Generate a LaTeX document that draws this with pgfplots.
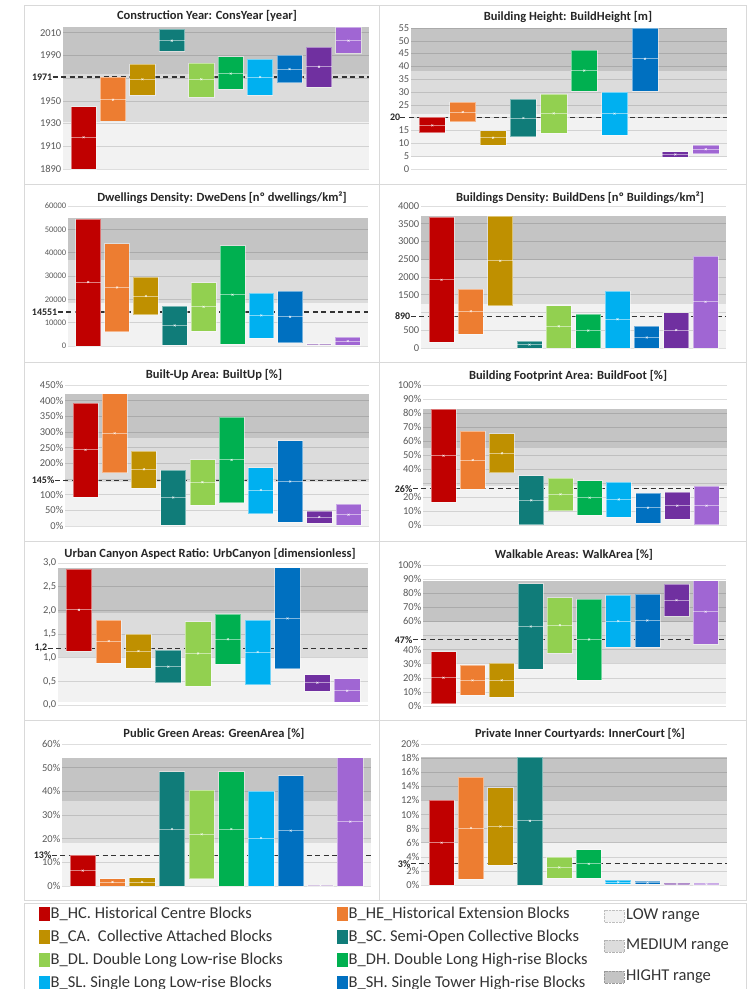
\documentclass[border=0pt]{standalone}
\usepackage{fontspec}
\setmainfont{Carlito}
\usepackage{pgfplots}
\usepackage{pgfplotstable}
\pgfplotsset{compat=1.18}

% block typology colours
\definecolor{c1}{HTML}{C00000}
\definecolor{c2}{HTML}{ED7D31}
\definecolor{c3}{HTML}{BF9000}
\definecolor{c4}{HTML}{107C79}
\definecolor{c5}{HTML}{92D050}
\definecolor{c6}{HTML}{00B050}
\definecolor{c7}{HTML}{00B0F0}
\definecolor{c8}{HTML}{0070C0}
\definecolor{c9}{HTML}{7030A0}
\definecolor{c10}{HTML}{A066D3}
% range bands
\definecolor{bandLow}{HTML}{F2F2F2}
\definecolor{bandMed}{HTML}{DCDCDC}
\definecolor{bandHigh}{HTML}{C4C4C4}
\definecolor{frame}{HTML}{D9D9D9}
\definecolor{ticktext}{HTML}{595959}

% x = block type (1 HC, 2 HE, 3 CA, 4 SC, 5 DL, 6 DH, 7 SL, 8 SH, 9 DT, 10 ST)
\pgfplotstableread{
x lo mean hi
1 1890 1918 1945
2 1932 1951 1971
3 1955 1969 1982
4 1994 2003 2013
5 1953 1969 1983
6 1960 1974 1989
7 1955 1971 1987
8 1966 1978 1990
9 1962 1980 1997
10 1992 2003 2015
}\tConsYear
\pgfplotstableread{
x lo mean hi
1 14.2 17.0 20.2
2 18.5 22.2 26.1
3 9.4 12.2 15.0
4 12.6 19.9 27.2
5 13.9 21.7 29.3
6 30.4 38.4 46.4
7 13.3 21.6 29.9
8 30.4 43.0 55.0
9 4.6 5.7 6.8
10 6.0 7.7 9.2
}\tBuildHeight
\pgfplotstableread{
x lo mean hi
1 0 27400 54300
2 6100 25100 43900
3 13500 21400 29400
4 400 8800 17200
5 6400 16800 27200
6 900 22000 43000
7 3300 13100 22700
8 1400 12500 23500
9 300 700 1000
10 300 2100 3800
}\tDweDens
\pgfplotstableread{
x lo mean hi
1 170 1920 3680
2 400 1035 1650
3 1190 2455 3720
4 0 95 190
5 0 610 1195
6 0 490 950
7 0 810 1610
8 0 295 620
9 0 505 1000
10 0 1300 2580
}\tBuildDens
\pgfplotstableread{
x lo mean hi
1 93 243 393
2 170 296 422
3 121 181 240
4 2 91 179
5 67 140 212
6 75 211 348
7 39 115 186
8 13 142 272
9 9 29 47
10 2 36 69
}\tBuiltUp
\pgfplotstableread{
x lo mean hi
1 16.2 49.5 82.9
2 25.7 46.4 67.0
3 37.4 51.2 65.2
4 0.2 17.6 35.2
5 10.2 21.9 33.6
6 6.9 19.5 31.7
7 5.5 18.3 30.7
8 1.4 12.4 22.9
9 4.3 13.8 23.3
10 0.2 13.8 27.9
}\tBuildFoot
\pgfplotstableread{
x lo mean hi
1 1.14 2.01 2.87
2 0.89 1.35 1.80
3 0.78 1.14 1.50
4 0.47 0.81 1.16
5 0.40 1.09 1.76
6 0.86 1.39 1.92
7 0.43 1.12 1.80
8 0.77 1.83 2.90
9 0.29 0.47 0.64
10 0.06 0.30 0.56
}\tUrbCanyon
\pgfplotstableread{
x lo mean hi
1 1.7 20.1 38.6
2 7.8 18.2 28.9
3 6.4 18.2 30.6
4 26.1 56.4 86.7
5 37.7 57.3 76.8
6 18.2 47.2 75.8
7 41.5 60.2 78.7
8 41.9 60.7 79.1
9 63.7 75.1 86.3
10 43.8 66.8 88.9
}\tWalkArea
\pgfplotstableread{
x lo mean hi
1 0 6.5 13.1
2 0 1.7 3.1
3 0 1.7 3.5
4 0 24.1 48.3
5 3.1 21.9 40.5
6 0 24.1 48.3
7 0 20.3 40.2
8 0 23.4 46.6
9 0 0.3 0.5
10 0 27.2 54.2
}\tGreenArea
\pgfplotstableread{
x lo mean hi
1 0 6.0 12.0
2 0.85 8.1 15.3
3 2.8 8.3 13.8
4 0 9.1 18.1
5 1.0 2.5 4.0
6 1.0 3.0 5.0
7 0.1 0.38 0.66
8 0.1 0.33 0.55
9 0 0.12 0.22
10 0 0.12 0.22
}\tInnerCourt

% floating range bars with mean line and mark, one colour per block type
\newcommand\floatbars[1]{%
  \pgfplotsforeachungrouped \bi in {0,...,9}{%
    \pgfplotstablegetelem{\bi}{lo}\of{#1}\let\vlo\pgfplotsretval
    \pgfplotstablegetelem{\bi}{mean}\of{#1}\let\vmean\pgfplotsretval
    \pgfplotstablegetelem{\bi}{hi}\of{#1}\let\vhi\pgfplotsretval
    \pgfplotstablegetelem{\bi}{x}\of{#1}\let\vx\pgfplotsretval
    \pgfmathsetmacro\xa{\vx-0.43}%
    \pgfmathsetmacro\xb{\vx+0.43}%
    \edef\barcmd{%
      \noexpand\addplot[fill=c\vx, draw=white, draw opacity=0.45, line width=0.6pt, forget plot]
        coordinates {(\xa,\vlo) (\xb,\vlo) (\xb,\vhi) (\xa,\vhi)} --cycle;%
      \noexpand\addplot[white, opacity=0.5, line width=0.8pt, forget plot]
        coordinates {(\xa,\vmean) (\xb,\vmean)};%
      \noexpand\addplot[only marks, mark=x, mark size=1.4pt, white, opacity=0.9, forget plot]
        coordinates {(\vx,\vmean)};%
    }\barcmd
  }%
}

% LOW / MEDIUM / HIGH range bands behind the grid
\newcommand\bands[4]{%
  \addplot[on layer=axis background, fill=bandLow, draw=none, forget plot]
    coordinates {(0.3,#1) (10.7,#1) (10.7,#2) (0.3,#2)} --cycle;
  \addplot[on layer=axis background, fill=bandMed, draw=none, forget plot]
    coordinates {(0.3,#2) (10.7,#2) (10.7,#3) (0.3,#3)} --cycle;
  \addplot[on layer=axis background, fill=bandHigh, draw=none, forget plot]
    coordinates {(0.3,#3) (10.7,#3) (10.7,#4) (0.3,#4)} --cycle;
}

% dashed reference (city average)
\newcommand\refline[1]{%
  \addplot[black!80, line width=1.2pt, dash pattern=on 5pt off 3.5pt, forget plot]
    coordinates {(-0.05,#1) (10.7,#1)};
}

\pgfplotsset{
  panel/.style={
    scale only axis, anchor=south west, set layers=standard, clip=false,
    xmin=0.3, xmax=10.7, xtick=\empty,
    scaled y ticks=false,
    axis line style={draw=none},
    major tick length=0pt,
    ymajorgrids,
    major grid style={black, opacity=0.13, line width=0.6pt},
    yticklabel style={font=\fontsize{10.5}{11}\selectfont, text=ticktext, inner sep=1.5pt},
    extra y tick style={grid=none,
      yticklabel style={font=\fontsize{10}{11}\selectfont\bfseries, text=black!85, xshift=-9pt}},
  },
}

\newcommand\ptitle[2]{\node[font=\fontsize{12.5}{14}\selectfont\bfseries, text=black!85] at #1 {#2};}

\begin{document}
\begin{tikzpicture}
\path (0,0) rectangle (753pt,-989pt);

% panel frames
\begin{scope}[draw=frame, line width=0.8pt]
  \draw (24.5pt,-5.5pt) rectangle (746pt,-900pt);
  \draw (379pt,-5.5pt) -- (379pt,-900pt);
  \foreach \yy in {184,362,541,720} \draw (24.5pt,-\yy pt) -- (746pt,-\yy pt);
  \draw (24.5pt,-988.6pt) -- (24.5pt,-903pt) -- (746pt,-903pt) -- (746pt,-988.6pt);
\end{scope}

% titles
\ptitle{(207pt,-16pt)}{Construction Year: ConsYear [year]}
\ptitle{(568pt,-17pt)}{Building Height: BuildHeight [m]}
\ptitle{(222pt,-198pt)}{Dwellings Density: DweDens [nº dwellings/km²]}
\ptitle{(580pt,-198pt)}{Buildings Density: BuildDens [nº Buildings/km²]}
\ptitle{(214pt,-375pt)}{Built-Up Area: BuiltUp [\%]}
\ptitle{(568pt,-376pt)}{Building Footprint Area: BuildFoot [\%]}
\ptitle{(210pt,-554pt)}{Urban Canyon Aspect Ratio: UrbCanyon [dimensionless]}
\ptitle{(574pt,-555pt)}{Walkable Areas: WalkArea [\%]}
\ptitle{(214pt,-734pt)}{Public Green Areas: GreenArea [\%]}
\ptitle{(580pt,-734pt)}{Private Inner Courtyards: InnerCourt [\%]}

% Construction year
\begin{axis}[panel, at={(63pt,-169pt)}, width=306pt, height=142pt,
  ymin=1890, ymax=2015,
  ytick={1890,1910,1930,1950,1970,1990,2010},
  yticklabels={1890,1910,1930,1950,,1990,2010},
  extra y ticks={1971}, extra y tick labels={1971}]
  \bands{1890}{1931.7}{1973.3}{2015}
  \refline{1971}
  \floatbars{\tConsYear}
\end{axis}

% Building height
\begin{axis}[panel, at={(411pt,-169pt)}, width=316pt, height=141pt,
  ymin=0, ymax=55,
  ytick={0,5,10,15,20,25,30,35,40,45,50,55},
  yticklabels={0,5,10,15,,25,30,35,40,45,50,55},
  extra y ticks={20}, extra y tick labels={20}]
  \bands{4.6}{21.4}{38.2}{55}
  \refline{20}
  \floatbars{\tBuildHeight}
\end{axis}

% Dwellings density
\begin{axis}[panel, at={(68pt,-346pt)}, width=300pt, height=140pt,
  ymin=0, ymax=60000,
  yticklabel style={font=\fontsize{8.5}{9}\selectfont},
  ytick={0,10000,20000,30000,40000,50000,60000},
  yticklabels={0,10000,20000,30000,40000,50000,60000},
  extra y ticks={14551}, extra y tick labels={14551}]
  \bands{0}{18333}{36667}{55000}
  \refline{14551}
  \floatbars{\tDweDens}
\end{axis}

% Buildings density
\begin{axis}[panel, at={(421pt,-348pt)}, width=305pt, height=142pt,
  ymin=0, ymax=4000,
  ytick={0,500,1000,1500,2000,2500,3000,3500,4000},
  yticklabels={0,500,,1500,2000,2500,3000,3500,4000},
  extra y ticks={890}, extra y tick labels={890}]
  \bands{0}{1240}{2480}{3720}
  \refline{890}
  \floatbars{\tBuildDens}
\end{axis}

% Built-up area
\begin{axis}[panel, at={(65pt,-526pt)}, width=304pt, height=141pt,
  ymin=0, ymax=450,
  ytick={0,50,100,150,200,250,300,350,400,450},
  yticklabels={0\%,50\%,100\%,,200\%,250\%,300\%,350\%,400\%,450\%},
  extra y ticks={145}, extra y tick labels={145\%}]
  \bands{0}{140.7}{281.3}{422}
  \refline{145}
  \floatbars{\tBuiltUp}
\end{axis}

% Building footprint
\begin{axis}[panel, at={(423pt,-525pt)}, width=304pt, height=140pt,
  ymin=0, ymax=100,
  ytick={0,10,20,30,40,50,60,70,80,90,100},
  yticklabels={0\%,10\%,20\%,,40\%,50\%,60\%,70\%,80\%,90\%,100\%},
  extra y ticks={26}, extra y tick labels={26\%}]
  \bands{0}{27.6}{55.3}{82.9}
  \refline{26}
  \floatbars{\tBuildFoot}
\end{axis}

% Urban canyon
\begin{axis}[panel, at={(58pt,-705pt)}, width=310pt, height=142pt,
  ymin=0, ymax=3,
  ytick={0,0.5,1,1.5,2,2.5,3},
  yticklabels={{0,0},{0,5},{1,0},{1,5},{2,0},{2,5},{3,0}},
  extra y ticks={1.2}, extra y tick labels={1{,}2}]
  \bands{0.06}{1.01}{1.95}{2.9}
  \refline{1.2}
  \floatbars{\tUrbCanyon}
\end{axis}

% Walkable areas
\begin{axis}[panel, at={(423pt,-706pt)}, width=303pt, height=141pt,
  ymin=0, ymax=100,
  ytick={0,10,20,30,40,50,60,70,80,90,100},
  yticklabels={0\%,10\%,20\%,30\%,40\%,,60\%,70\%,80\%,90\%,100\%},
  extra y ticks={47}, extra y tick labels={47\%}]
  \bands{1.7}{30.8}{59.8}{88.9}
  \refline{47}
  \floatbars{\tWalkArea}
\end{axis}

% Public green areas
\begin{axis}[panel, at={(62pt,-886pt)}, width=309pt, height=142pt,
  ymin=0, ymax=60,
  ytick={0,10,20,30,40,50,60},
  yticklabels={0\%,10\%,20\%,30\%,40\%,50\%,60\%},
  extra y ticks={13}, extra y tick labels={13\%}]
  \bands{0}{18.1}{36.1}{54.2}
  \refline{13}
  \floatbars{\tGreenArea}
\end{axis}

% Private inner courtyards
\begin{axis}[panel, at={(421pt,-885pt)}, width=306pt, height=141pt,
  ymin=0, ymax=20,
  ytick={0,2,4,6,8,10,12,14,16,18,20},
  yticklabels={0\%,2\%,4\%,6\%,8\%,10\%,12\%,14\%,16\%,18\%,20\%},
  extra y ticks={3}, extra y tick labels={3\%}]
  \bands{0}{6.03}{12.07}{18.1}
  \refline{3}
  \floatbars{\tInnerCourt}
\end{axis}

% legend (the last row runs past the lower edge)
\begin{scope}[every node/.style={anchor=west, inner sep=0pt, font=\fontsize{16.5}{18}\selectfont, text=black!80}]
  \fill[c1] (39pt,-907pt) rectangle (49.5pt,-921pt);
  \node at (50.5pt,-914pt) {B\_HC. Historical Centre Blocks};
  \fill[c3] (39pt,-930pt) rectangle (49.5pt,-944pt);
  \node at (50.5pt,-937pt) {B\_CA.\ \ Collective Attached Blocks};
  \fill[c5] (39pt,-953pt) rectangle (49.5pt,-967pt);
  \node at (50.5pt,-960pt) {B\_DL. Double Long Low-rise Blocks};

  \fill[c2] (337pt,-907pt) rectangle (347.5pt,-921pt);
  \node at (348.5pt,-914pt) {B\_HE\_Historical Extension Blocks};
  \fill[c4] (337pt,-930pt) rectangle (347.5pt,-944pt);
  \node at (348.5pt,-937pt) {B\_SC. Semi-Open Collective Blocks};
  \fill[c6] (337pt,-953pt) rectangle (347.5pt,-967pt);
  \node at (348.5pt,-960pt) {B\_DH. Double Long High-rise Blocks};

  \filldraw[fill=bandLow, draw=black!25, densely dotted] (604pt,-910pt) rectangle (624pt,-922pt);
  \node at (626pt,-916pt) {LOW range};
  \filldraw[fill=bandMed, draw=black!30, densely dotted] (604pt,-940pt) rectangle (624pt,-952pt);
  \node at (626pt,-946pt) {MEDIUM range};
  \filldraw[fill=bandHigh, draw=black!40, densely dotted] (604pt,-971pt) rectangle (624pt,-983pt);
  \node at (626pt,-977pt) {HIGHT range};

  \begin{scope}[overlay]
    \fill[c7] (39pt,-976pt) rectangle (49.5pt,-990pt);
    \node at (50.5pt,-983pt) {B\_SL. Single Long Low-rise Blocks};
    \fill[c8] (337pt,-976pt) rectangle (347.5pt,-990pt);
    \node at (348.5pt,-983pt) {B\_SH. Single Tower High-rise Blocks};
  \end{scope}
\end{scope}
\end{tikzpicture}
\end{document}
